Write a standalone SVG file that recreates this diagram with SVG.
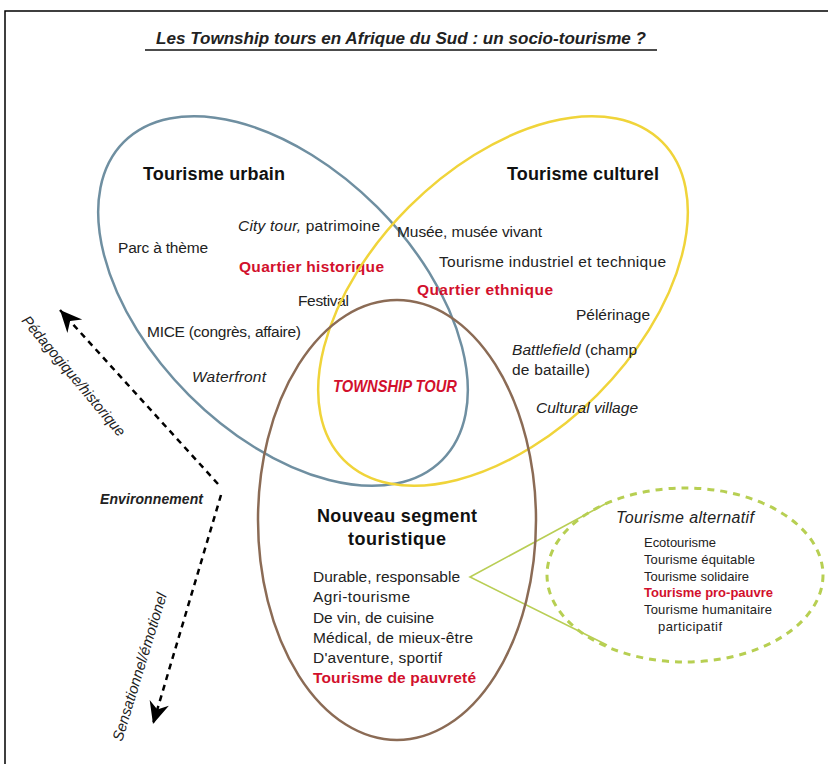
<svg xmlns="http://www.w3.org/2000/svg" width="828" height="764" viewBox="0 0 828 764">
<style>
text{font-family:"Liberation Sans",Arial,sans-serif;fill:#222}
.b{font-size:15.5px}
.h{font-size:18px;font-weight:bold;fill:#111}
.r{fill:#d2102c;font-weight:bold}
.i{font-style:italic}
.s{font-size:13px}
.ell{fill:none;stroke-width:2.5}
</style>
<defs>
<marker id="ah" markerUnits="userSpaceOnUse" markerWidth="26" markerHeight="24" viewBox="-23 -12 25 24" refX="0" refY="0" orient="auto">
<path d="M0,0 L-22,-10 L-15,0 L-22,10 Z" fill="#000"/>
</marker>
</defs>
<rect width="828" height="764" fill="#fff"/>
<path d="M5,764 V11 H828" fill="none" stroke="#000" stroke-width="1.5"/>
<g id="title">
<text x="156" y="44" font-size="17" font-weight="bold" font-style="italic" fill="#111" textLength="490" lengthAdjust="spacingAndGlyphs">Les Township tours en Afrique du Sud : un socio-tourisme ?</text>
<line x1="145" y1="50" x2="657" y2="50" stroke="#111" stroke-width="1.5"/>
</g>
<g id="connectors">
<polyline points="607,503 470,577 607,645" fill="none" stroke="#b9ce55" stroke-width="1.6"/>
<path d="M218,484 L60,310" fill="none" stroke="#000" stroke-width="2.5" stroke-dasharray="6 5" marker-end="url(#ah)"/>
<path d="M221,495 L153,724" fill="none" stroke="#000" stroke-width="2.5" stroke-dasharray="6 5" marker-end="url(#ah)"/>
</g>
<g id="tourisme-urbain">
<ellipse class="ell" cx="283" cy="301" rx="225" ry="133" transform="rotate(45 283 301)" stroke="#6f8fa1"/>
<text class="h" x="143" y="180" textLength="142">Tourisme urbain</text>
<text class="b" x="238" y="231" textLength="142"><tspan class="i">City tour,</tspan> patrimoine</text>
<text class="b" x="118" y="253" textLength="90">Parc à thème</text>
<text class="b r" x="239" y="272" textLength="145">Quartier historique</text>
<text class="b" x="298" y="306" textLength="51">Festival</text>
<text class="b" x="147" y="337" textLength="154">MICE (congrès, affaire)</text>
<text class="b i" x="192" y="382" textLength="74">Waterfront</text>
</g>
<g id="tourisme-culturel">
<ellipse class="ell" cx="503" cy="301" rx="225" ry="133" transform="rotate(-45 503 301)" stroke="#f0d43a"/>
<text class="h" x="507" y="180" textLength="152">Tourisme culturel</text>
<text class="b" x="397" y="237" textLength="145">Musée, musée vivant</text>
<text class="b" x="439" y="267" textLength="227">Tourisme industriel et technique</text>
<text class="b r" x="417" y="295" textLength="136">Quartier ethnique</text>
<text class="b" x="576" y="320" textLength="74">Pélérinage</text>
<text class="b" x="512" y="355" textLength="125"><tspan class="i">Battlefield</tspan> (champ</text>
<text class="b" x="512" y="375" textLength="78">de bataille)</text>
<text class="b i" x="536" y="413" textLength="102">Cultural village</text>
</g>
<g id="nouveau-segment">
<ellipse class="ell" cx="397" cy="520" rx="139" ry="220" stroke="#8b6b55"/>
<text class="h" x="317" y="522" textLength="160">Nouveau segment</text>
<text class="h" x="348" y="545" textLength="98">touristique</text>
<text class="b" x="313" y="582" textLength="147">Durable, responsable</text>
<text class="b" x="313" y="602" textLength="97">Agri-tourisme</text>
<text class="b" x="313" y="623" textLength="121">De vin, de cuisine</text>
<text class="b" x="313" y="643" textLength="160">Médical, de mieux-être</text>
<text class="b" x="313" y="663" textLength="129">D'aventure, sportif</text>
<text class="b r" x="313" y="683" textLength="163">Tourisme de pauvreté</text>
</g>
<g id="township-tour">
<text class="r i" font-size="16.5" x="333" y="392" textLength="124" lengthAdjust="spacingAndGlyphs">TOWNSHIP TOUR</text>
</g>
<g id="tourisme-alternatif">
<ellipse cx="685" cy="575" rx="138" ry="87" fill="none" stroke="#b7cf52" stroke-width="3" stroke-dasharray="7 6"/>
<text class="i" x="616" y="523" font-size="16" textLength="138">Tourisme alternatif</text>
<text class="s" x="644" y="547" textLength="72">Ecotourisme</text>
<text class="s" x="644" y="564" textLength="111">Tourisme équitable</text>
<text class="s" x="644" y="581" textLength="105">Tourisme solidaire</text>
<text class="s r" x="644" y="597" textLength="129">Tourisme pro-pauvre</text>
<text class="s" x="644" y="614" textLength="128">Tourisme humanitaire</text>
<text class="s" x="658" y="631" textLength="64">participatif</text>
</g>
<g id="axis-labels">
<text class="i" font-size="15" transform="translate(21,321) rotate(50)" textLength="152" lengthAdjust="spacingAndGlyphs">Pédagogique/historique</text>
<text class="i" font-size="14" font-weight="bold" fill="#111" x="100" y="504" textLength="103">Environnement</text>
<text class="i" font-size="15" transform="translate(122,742) rotate(-73)" textLength="154" lengthAdjust="spacingAndGlyphs">Sensationnel/émotionel</text>
</g>
</svg>
